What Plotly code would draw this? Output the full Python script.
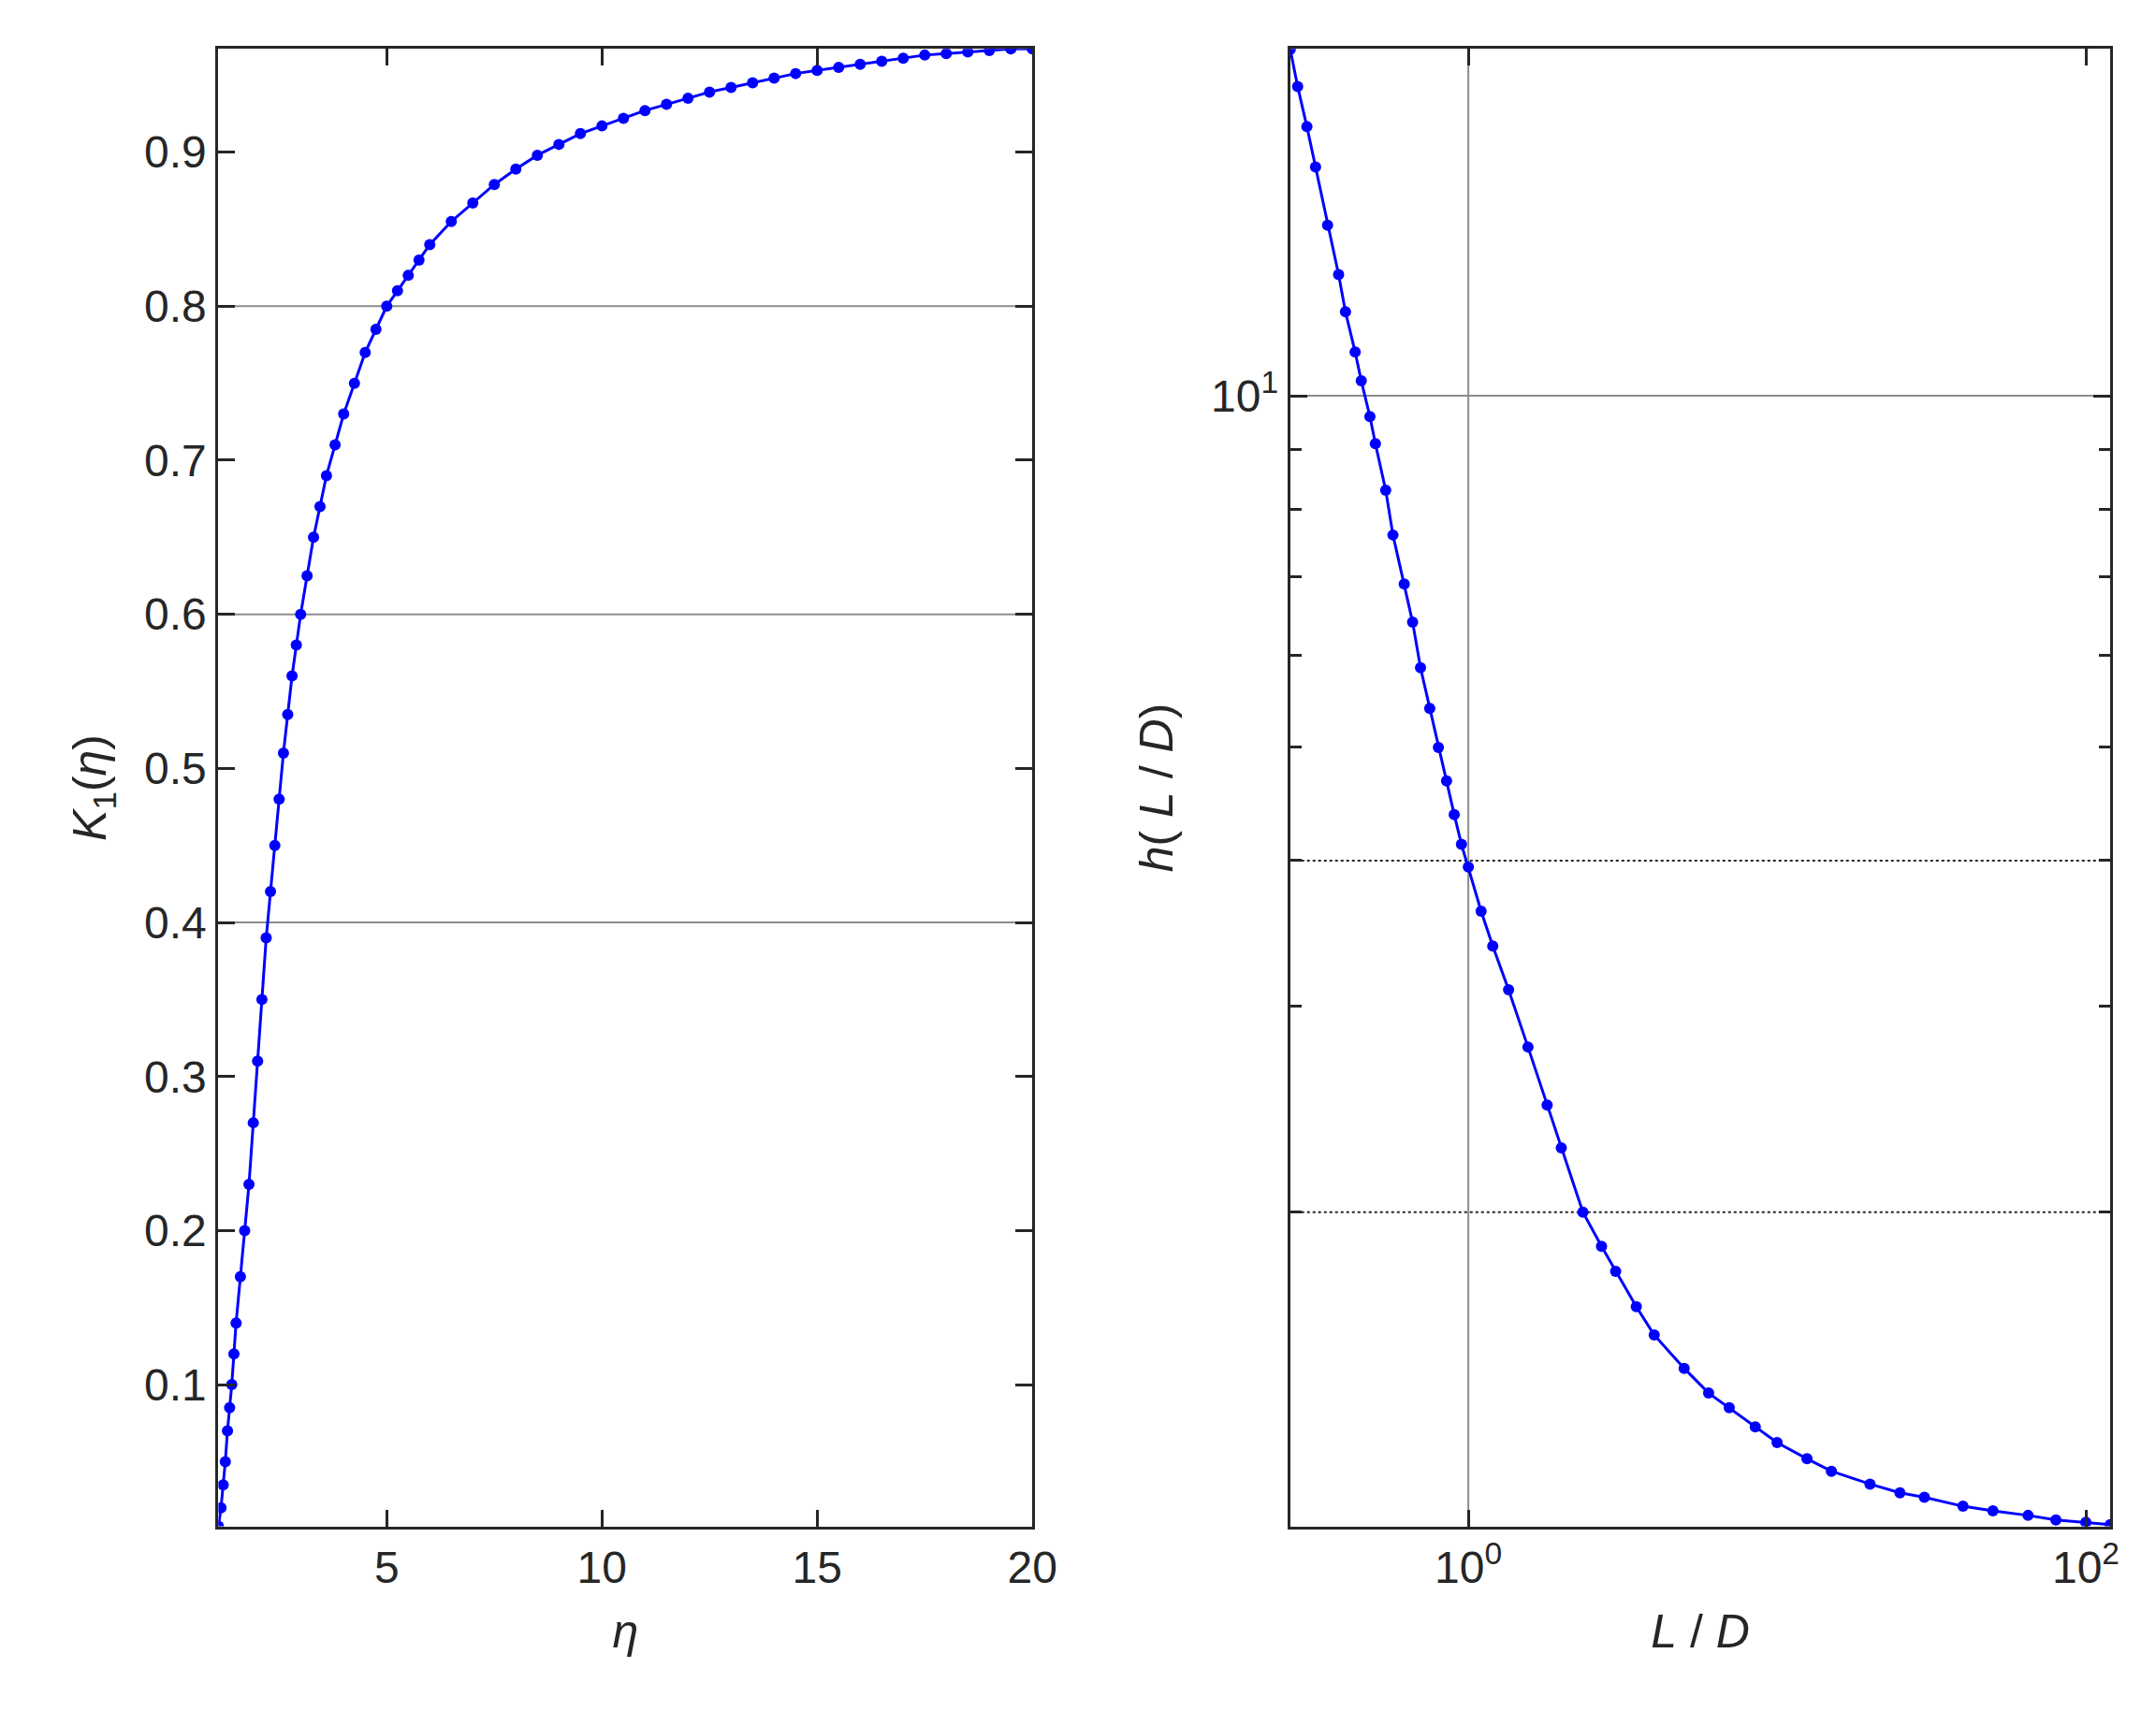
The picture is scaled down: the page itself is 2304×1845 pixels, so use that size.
import plotly.graph_objects as go

# left panel: K1(eta)
eta = [1.09, 1.15, 1.2, 1.25, 1.3, 1.35, 1.4, 1.45, 1.5, 1.6, 1.7, 1.8, 1.9, 2.0, 2.1, 2.2,
       2.3, 2.4, 2.5, 2.6, 2.7, 2.8, 2.9, 3.0, 3.15, 3.3, 3.45, 3.6, 3.8, 4.0, 4.25, 4.5,
       4.75, 5.0, 5.25, 5.5, 5.75, 6.0, 6.5, 7.0, 7.5, 8.0, 8.5, 9.0, 9.5, 10, 10.5, 11,
       11.5, 12, 12.5, 13, 13.5, 14, 14.5, 15, 15.5, 16, 16.5, 17, 17.5, 18, 18.5, 19, 19.5, 20]
k1 = [0.008, 0.02, 0.035, 0.05, 0.07, 0.085, 0.10, 0.12, 0.14, 0.17, 0.20, 0.23, 0.27, 0.31, 0.35, 0.39,
      0.42, 0.45, 0.48, 0.51, 0.535, 0.56, 0.58, 0.60, 0.625, 0.65, 0.67, 0.69, 0.71, 0.73, 0.75, 0.77,
      0.785, 0.80, 0.81, 0.82, 0.83, 0.84, 0.855, 0.867, 0.879, 0.889, 0.898, 0.905, 0.912, 0.917, 0.922, 0.927,
      0.931, 0.935, 0.939, 0.942, 0.945, 0.948, 0.951, 0.953, 0.955, 0.957, 0.959, 0.961, 0.963, 0.964, 0.965, 0.966, 0.967, 0.967]

# right panel: h(L/D)
ld = [0.265, 0.28, 0.3, 0.32, 0.35, 0.38, 0.4, 0.43, 0.45, 0.48, 0.5, 0.54, 0.57, 0.62, 0.66, 0.7,
      0.75, 0.8, 0.85, 0.9, 0.95, 1.0, 1.1, 1.2, 1.35, 1.56, 1.8, 2.0, 2.35, 2.7, 3.0, 3.5, 4.0,
      5.0, 6.0, 7.0, 8.5, 10, 12.5, 15, 20, 25, 30, 40, 50, 65, 80, 100, 120]
h = [19.8, 18.4, 17.0, 15.7, 14.0, 12.7, 11.8, 10.9, 10.3, 9.6, 9.1, 8.3, 7.6, 6.9, 6.4, 5.85,
     5.4, 5.0, 4.68, 4.38, 4.13, 3.95, 3.62, 3.38, 3.1, 2.77, 2.47, 2.27, 2.0, 1.87, 1.78, 1.66, 1.57,
     1.47, 1.40, 1.36, 1.31, 1.27, 1.23, 1.20, 1.17, 1.15, 1.14, 1.12, 1.11, 1.10, 1.09, 1.085, 1.08]

blue = "#0000ff"
font = dict(family="Liberation Sans, Arial", size=48, color="#262626")
tfont = dict(font, size=50)

fig = go.Figure()
fig.add_trace(go.Scatter(x=eta, y=k1, mode="lines+markers", xaxis="x", yaxis="y",
                         line=dict(color=blue, width=3), marker=dict(color=blue, size=12)))
fig.add_trace(go.Scatter(x=ld, y=h, mode="lines+markers", xaxis="x2", yaxis="y2",
                         line=dict(color=blue, width=3), marker=dict(color=blue, size=12)))

ax = dict(showline=True, linecolor="#262626", linewidth=3, mirror="ticks", ticks="inside",
          ticklen=18, tickwidth=3, tickcolor="#262626", showgrid=False, zeroline=False,
          tickfont=font)

fig.update_layout(
    width=2304, height=1845, plot_bgcolor="white", paper_bgcolor="white",
    showlegend=False, margin=dict(l=0, r=0, t=0, b=0),
    xaxis=dict(ax, domain=[0.099, 0.481], range=[1.09, 20], tickvals=[5, 10, 15, 20],
               title=dict(text="<i>η</i>", font=tfont, standoff=25)),
    yaxis=dict(ax, domain=[0.12, 0.976], range=[0.008, 0.967],
               tickvals=[0.1, 0.2, 0.3, 0.4, 0.5, 0.6, 0.7, 0.8, 0.9],
               title=dict(text="<i>K</i><sub>1</sub>(<i>η</i>)", font=tfont, standoff=25)),
    xaxis2=dict(ax, domain=[0.602, 0.987], type="log", range=[-0.577, 2.08],
                tickvals=[1, 100], ticktext=["10<sup>0</sup>", "10<sup>2</sup>"], anchor="y2",
                title=dict(text="<i>L</i> / <i>D</i>", font=tfont, standoff=25)),
    yaxis2=dict(ax, domain=[0.12, 0.976], type="log", range=[0.032, 1.297],
                tickvals=[10], ticktext=["10<sup>1</sup>"], anchor="x2",
                minor=dict(tickvals=[2, 3, 4, 5, 6, 7, 8, 9], ticks="inside", ticklen=12,
                           tickcolor="#262626", tickwidth=3),
                title=dict(text="<i>h</i>( <i>L</i> / <i>D</i>)", font=tfont, standoff=25)),
)

grid = dict(color="#8c8c8c", width=2)
for v in [0.4, 0.6, 0.8]:
    fig.add_shape(type="line", xref="x domain", yref="y", x0=0, x1=1, y0=v, y1=v, line=grid, layer="below")
fig.add_shape(type="line", xref="x2 domain", yref="y2", x0=0, x1=1, y0=10, y1=10, line=grid, layer="below")
fig.add_shape(type="line", xref="x2", yref="y2 domain", x0=1, x1=1, y0=0, y1=1, line=grid, layer="below")
for v in [2, 4]:
    fig.add_shape(type="line", xref="x2 domain", yref="y2", x0=0, x1=1, y0=v, y1=v,
                  line=dict(color="#262626", width=2, dash="dot"), layer="below")

fig.write_html("out.html")
